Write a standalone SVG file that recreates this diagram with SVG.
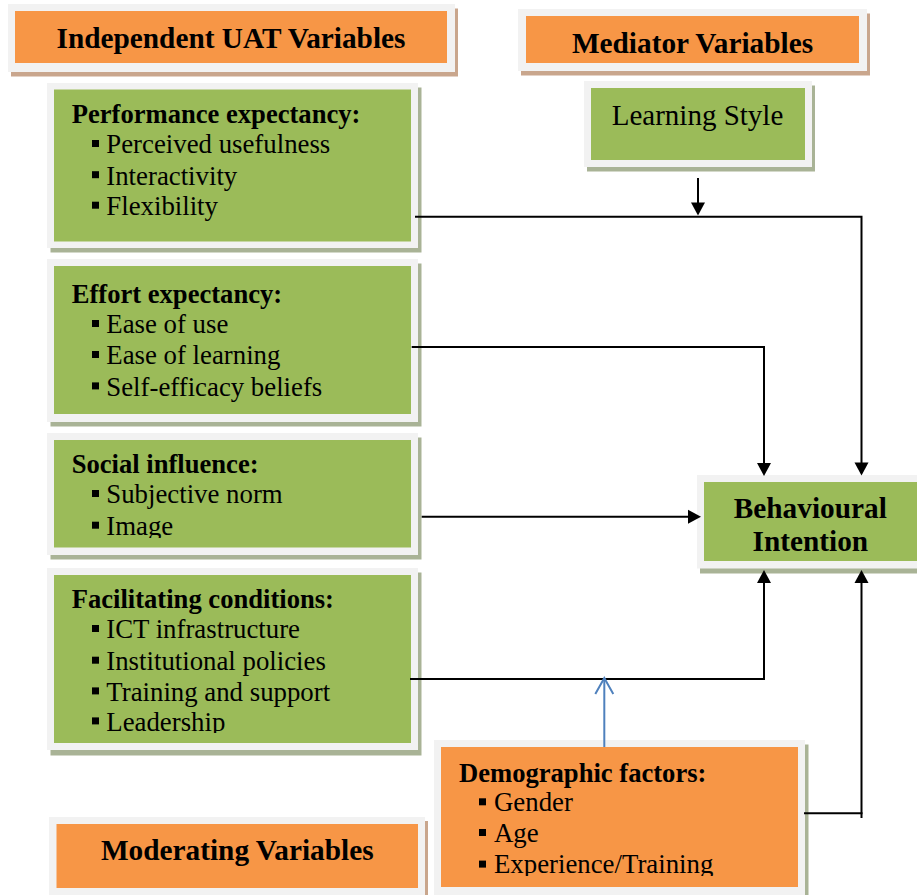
<svg xmlns="http://www.w3.org/2000/svg" width="917" height="895" viewBox="0 0 917 895">
<style>
.frame{fill:#f2f2f2}
.sho{fill:#c9a68d}
.shg{fill:#a9b396}
.or{fill:#f79646}
.gr{fill:#9bbb59}
text{font-family:"Liberation Serif","Times New Roman",serif;fill:#000}
.hd{font-size:29.3px;font-weight:bold;text-anchor:middle}
.lb{font-size:26.6px;font-weight:bold}
.it{font-size:26.8px}
.bl{fill:#000}
.cn{fill:none;stroke:#000;stroke-width:2}
.bc{fill:none;stroke:#4f81bd;stroke-width:2}
</style>
<defs>
<marker id="ah" markerUnits="userSpaceOnUse" markerWidth="20" markerHeight="20" refX="0" refY="0" orient="auto" overflow="visible">
<path d="M-10,-7 L3,0 L-10,7 z" fill="#000"/>
</marker>
<marker id="oh" markerUnits="userSpaceOnUse" markerWidth="20" markerHeight="20" refX="0" refY="0" orient="auto" overflow="visible">
<path d="M-16,-9 L0,0 L-16,9" fill="none" stroke="#4f81bd" stroke-width="2"/>
</marker>
<clipPath id="cSoc"><rect x="54" y="440" width="357" height="98"/></clipPath>
<clipPath id="cFac"><rect x="54" y="575" width="357" height="158"/></clipPath>
<clipPath id="cDem"><rect x="441" y="747" width="357" height="129"/></clipPath>
</defs>
<rect width="917" height="895" fill="#fff"/>

<g id="hdr-independent">
<rect class="sho" x="11" y="8.5" width="447" height="68"/>
<rect class="frame" x="8" y="4" width="447" height="68"/>
<rect class="or" x="15" y="11" width="432" height="52"/>
<text class="hd" x="231" y="48">Independent UAT Variables</text>
</g>

<g id="hdr-mediator">
<rect class="sho" x="521" y="13.5" width="349" height="62"/>
<rect class="frame" x="518" y="9" width="349" height="62"/>
<rect class="or" x="526" y="16" width="333" height="47"/>
<text class="hd" x="692.5" y="53">Mediator Variables</text>
</g>

<g id="learning-style">
<rect class="shg" x="587" y="85.5" width="228" height="86"/>
<rect class="frame" x="584" y="81" width="228" height="86"/>
<rect class="gr" x="591" y="88" width="214" height="72"/>
<text x="697.5" y="125" style="font-size:29px;text-anchor:middle">Learning Style</text>
</g>

<g id="performance">
<rect class="shg" x="50.5" y="87.5" width="371" height="165"/>
<rect class="frame" x="47" y="83" width="371" height="165"/>
<rect class="gr" x="54" y="89.5" width="357" height="152"/>
<text class="lb" x="71.7" y="123.3">Performance expectancy:</text>
<rect class="bl" x="92" y="140" width="7" height="7"/>
<text class="it" x="106.3" y="153.3">Perceived usefulness</text>
<rect class="bl" x="92" y="171.2" width="7" height="7"/>
<text class="it" x="106.3" y="184.5">Interactivity</text>
<rect class="bl" x="92" y="201.7" width="7" height="7"/>
<text class="it" x="106.3" y="215">Flexibility</text>
</g>

<g id="effort">
<rect class="shg" x="50.5" y="263.5" width="371" height="163"/>
<rect class="frame" x="47" y="259" width="371" height="163"/>
<rect class="gr" x="54" y="266" width="357" height="148"/>
<text class="lb" x="71.7" y="302.7">Effort expectancy:</text>
<rect class="bl" x="92" y="320" width="7" height="7"/>
<text class="it" x="106.3" y="333.3">Ease of use</text>
<rect class="bl" x="92" y="351" width="7" height="7"/>
<text class="it" x="106.3" y="364.3">Ease of learning</text>
<rect class="bl" x="92" y="382.4" width="7" height="7"/>
<text class="it" x="106.3" y="395.7">Self-efficacy beliefs</text>
</g>

<g id="social">
<rect class="shg" x="50.5" y="437.5" width="371" height="122"/>
<rect class="frame" x="47" y="433" width="371" height="122"/>
<rect class="gr" x="54" y="440" width="357" height="107.5"/>
<g clip-path="url(#cSoc)">
<text class="lb" x="71.7" y="473.3">Social influence:</text>
<rect class="bl" x="92" y="490" width="7" height="7"/>
<text class="it" x="106.3" y="503.3">Subjective norm</text>
<rect class="bl" x="92" y="521.7" width="7" height="7"/>
<text class="it" x="106.3" y="535">Image</text>
</g>
</g>

<g id="facilitating">
<rect class="shg" x="50.5" y="572.5" width="371" height="183"/>
<rect class="frame" x="47" y="568" width="371" height="182"/>
<rect class="gr" x="54" y="575" width="357" height="168"/>
<g clip-path="url(#cFac)">
<text class="lb" x="71.7" y="608.3">Facilitating conditions:</text>
<rect class="bl" x="92" y="625" width="7" height="7"/>
<text class="it" x="106.3" y="638.3">ICT infrastructure</text>
<rect class="bl" x="92" y="656.7" width="7" height="7"/>
<text class="it" x="106.3" y="670">Institutional policies</text>
<rect class="bl" x="92" y="687.4" width="7" height="7"/>
<text class="it" x="106.3" y="700.7">Training and support</text>
<rect class="bl" x="92" y="717.4" width="7" height="7"/>
<text class="it" x="106.3" y="730.7">Leadership</text>
</g>
</g>

<g id="behavioural-intention">
<rect class="shg" x="700" y="479.5" width="240" height="94"/>
<rect class="frame" x="697" y="475" width="240" height="93.5"/>
<rect class="gr" x="704" y="482" width="226" height="79"/>
<text class="hd" x="810.3" y="517.7">Behavioural</text>
<text class="hd" x="810.3" y="551">Intention</text>
</g>

<g id="demographic">
<rect class="shg" x="437.5" y="744.5" width="371" height="154"/>
<rect class="frame" x="434" y="740" width="371" height="160"/>
<rect class="or" x="441" y="747" width="357" height="140"/>
<g clip-path="url(#cDem)">
<text class="lb" x="459" y="781.7">Demographic factors:</text>
<rect class="bl" x="479" y="798.3" width="7" height="7"/>
<text class="it" x="494" y="811">Gender</text>
<rect class="bl" x="479" y="829" width="7" height="7"/>
<text class="it" x="494" y="841.7">Age</text>
<rect class="bl" x="479" y="860.6" width="7" height="7"/>
<text class="it" x="494" y="873.3">Experience/Training</text>
</g>
</g>

<g id="hdr-moderating">
<rect class="sho" x="52.5" y="821" width="375.5" height="80"/>
<rect class="frame" x="49" y="817" width="376" height="80"/>
<rect class="or" x="56.5" y="824" width="361.5" height="64"/>
<text class="hd" x="237.3" y="860">Moderating Variables</text>
</g>

<g id="connectors">
<path class="cn" d="M698,178 V212.5" marker-end="url(#ah)"/>
<path class="cn" d="M415,216.7 H861.5 V472.5" marker-end="url(#ah)"/>
<path class="cn" d="M411.7,347 H764 V473" marker-end="url(#ah)"/>
<path class="cn" d="M421.7,516.7 H698" marker-end="url(#ah)"/>
<path class="cn" d="M410,679 H764 V573" marker-end="url(#ah)"/>
<path class="cn" d="M804,813.3 H862.5"/>
<path class="cn" d="M861.5,818 V573" marker-end="url(#ah)"/>
<path class="bc" d="M604.3,747 V678" marker-end="url(#oh)"/>
</g>
</svg>
